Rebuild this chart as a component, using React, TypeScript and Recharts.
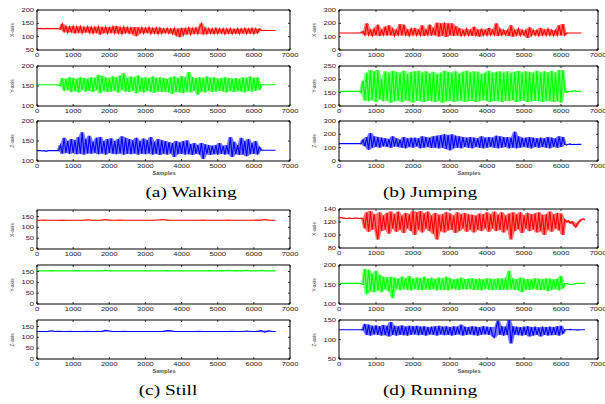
import React from "react";
import { ComposedChart, Line, Area, XAxis, YAxis, ReferenceArea } from "recharts";

// sample axis, shared by every subplot
const SAMPLE_TICKS = [0, 1000, 2000, 3000, 4000, 5000, 6000, 7000];

// values, one every 50 samples (still: every 100)
const walkX = [
  130, 130, 131, 130, 130, 130, 131, 130, 130, 130,
  130, 131, 130, 128, 148, 118, 140, 115, 138, 118,
  140, 112, 138, 116, 139, 113, 136, 117, 138, 114,
  137, 112, 136, 116, 138, 108, 135, 115, 137, 112,
  134, 115, 138, 113, 140, 112, 135, 110, 137, 114,
  135, 112, 134, 110, 136, 102, 135, 113, 134, 112,
  133, 115, 135, 111, 132, 113, 134, 110, 133, 112,
  130, 114, 132, 112, 130, 110, 132, 105, 130, 98,
  133, 106, 131, 110, 134, 108, 132, 112, 133, 110,
  135, 150, 108, 133, 110, 131, 112, 130, 110, 132,
  111, 130, 113, 131, 109, 130, 112, 131, 110, 129,
  112, 131, 110, 130, 113, 132, 111, 130, 112, 132,
  110, 131, 114, 130, 123, 123, 124, 123, 123, 123,
  123, 123, 123,
];
const walkY = [
  153, 153, 153, 153, 153, 153, 153, 153, 153, 153,
  153, 153, 152, 150, 170, 138, 168, 140, 172, 135,
  170, 137, 168, 134, 172, 140, 170, 136, 168, 138,
  172, 135, 170, 140, 178, 132, 175, 138, 172, 135,
  170, 136, 174, 138, 172, 134, 176, 140, 182, 136,
  170, 135, 174, 138, 172, 132, 176, 136, 170, 134,
  172, 138, 170, 135, 174, 133, 170, 136, 172, 135,
  170, 136, 168, 134, 172, 130, 174, 136, 170, 134,
  175, 132, 172, 136, 185, 134, 172, 138, 170, 128,
  172, 136, 170, 134, 174, 138, 170, 135, 172, 136,
  168, 138, 170, 136, 172, 134, 170, 138, 168, 135,
  170, 137, 168, 136, 172, 134, 170, 138, 174, 136,
  170, 138, 172, 140, 153, 153, 153, 153, 153, 153,
  153, 153, 153,
];
const walkZ = [
  126, 126, 126, 125, 126, 124, 126, 126, 126, 126,
  126, 126, 126, 140, 118, 158, 120, 150, 118, 155,
  120, 152, 117, 160, 118, 172, 116, 155, 119, 163,
  118, 148, 120, 158, 117, 160, 119, 150, 116, 155,
  120, 157, 118, 150, 117, 155, 119, 162, 116, 158,
  118, 155, 117, 152, 119, 158, 116, 150, 118, 156,
  117, 152, 119, 160, 116, 148, 118, 155, 115, 152,
  118, 150, 116, 147, 119, 145, 110, 150, 117, 146,
  118, 150, 116, 152, 117, 142, 115, 145, 118, 140,
  116, 145, 105, 142, 117, 140, 115, 138, 117, 140,
  116, 145, 118, 138, 116, 140, 117, 160, 110, 148,
  117, 140, 115, 158, 116, 150, 112, 155, 117, 145,
  118, 150, 116, 135, 127, 127, 127, 127, 127, 127,
  127, 127, 127,
];

const jumpX = [
  128, 128, 128, 128, 128, 128, 128, 128, 128, 128,
  128, 128, 128, 140, 110, 200, 112, 150, 105, 160,
  110, 190, 105, 150, 112, 175, 108, 185, 110, 160,
  105, 150, 112, 195, 108, 190, 110, 150, 105, 160,
  112, 165, 108, 150, 110, 185, 105, 150, 112, 190,
  108, 165, 110, 205, 100, 200, 108, 205, 98, 200,
  110, 200, 105, 180, 110, 165, 105, 150, 108, 160,
  110, 150, 105, 175, 108, 150, 100, 160, 110, 150,
  108, 165, 110, 150, 112, 200, 105, 160, 110, 150,
  112, 150, 105, 185, 100, 150, 110, 160, 108, 150,
  110, 150, 90, 170, 108, 150, 110, 150, 105, 165,
  110, 150, 108, 160, 110, 150, 105, 150, 110, 185,
  108, 195, 110, 128, 128, 128, 128, 128, 128, 128,
  128, 128,
];
const jumpY = [
  155, 155, 155, 155, 155, 155, 155, 155, 155, 155,
  155, 155, 150, 195, 120, 225, 118, 235, 122, 230,
  115, 235, 125, 200, 118, 230, 120, 225, 112, 232,
  118, 228, 120, 225, 115, 232, 122, 220, 118, 228,
  112, 230, 120, 232, 118, 225, 115, 230, 120, 222,
  118, 228, 115, 220, 120, 225, 112, 232, 118, 228,
  120, 225, 115, 230, 118, 222, 120, 228, 115, 232,
  118, 225, 120, 230, 115, 228, 118, 220, 122, 225,
  118, 232, 115, 225, 120, 228, 118, 230, 115, 225,
  120, 230, 118, 225, 122, 228, 115, 232, 118, 225,
  120, 230, 115, 228, 118, 225, 120, 232, 118, 225,
  115, 230, 120, 226, 118, 232, 115, 225, 118, 235,
  112, 235, 160, 150, 155, 155, 155, 157, 155, 155,
  155, 155,
];
const jumpZ = [
  130, 130, 130, 130, 130, 130, 130, 130, 130, 130,
  130, 130, 128, 160, 110, 180, 85, 210, 100, 185,
  105, 180, 100, 175, 110, 170, 105, 165, 100, 185,
  110, 170, 105, 160, 100, 180, 95, 170, 105, 175,
  100, 175, 110, 170, 95, 185, 100, 180, 105, 175,
  98, 185, 100, 190, 95, 195, 100, 200, 90, 195,
  80, 200, 95, 190, 100, 185, 95, 180, 105, 175,
  100, 180, 95, 175, 105, 170, 100, 185, 95, 175,
  100, 180, 105, 175, 100, 190, 95, 185, 100, 180,
  105, 180, 95, 175, 100, 220, 95, 185, 100, 175,
  105, 175, 100, 180, 95, 175, 105, 170, 100, 175,
  105, 170, 100, 180, 95, 175, 105, 170, 100, 185,
  105, 180, 125, 120, 125, 128, 122, 126, 124, 125,
  125, 125,
];

const stillX = [
  133, 133, 134, 133, 133, 133, 133, 132, 133, 133,
  133, 133, 133, 133, 135, 133, 133, 133, 133, 136,
  133, 133, 133, 134, 133, 133, 133, 133, 133, 133,
  133, 133, 133, 134, 134, 136, 133, 133, 133, 133,
  133, 133, 133, 133, 133, 133, 134, 133, 133, 133,
  133, 133, 133, 134, 133, 133, 133, 133, 133, 133,
  133, 134, 133, 136, 133, 133, 133,
];
const stillY = [
  153, 153, 153, 153, 154, 153, 153, 153, 153, 153,
  153, 154, 153, 153, 153, 153, 153, 153, 153, 155,
  153, 153, 153, 153, 153, 153, 153, 153, 153, 153,
  153, 153, 153, 153, 153, 153, 154, 153, 153, 153,
  153, 153, 153, 153, 153, 153, 153, 153, 154, 153,
  153, 154, 153, 155, 153, 154, 153, 153, 155, 153,
  153, 153, 155, 153, 153, 153, 153,
];
const stillZ = [
  127, 127, 127, 127, 130, 127, 128, 127, 127, 128,
  127, 127, 127, 127, 128, 127, 127, 127, 127, 132,
  129, 127, 127, 127, 128, 127, 127, 127, 127, 127,
  127, 127, 127, 127, 127, 127, 131, 130, 127, 127,
  127, 127, 127, 127, 127, 128, 127, 127, 127, 127,
  127, 127, 127, 127, 128, 127, 127, 127, 129, 127,
  127, 127, 131, 124, 130, 127, 127,
];

const runX = [
  126, 127, 126, 126, 125, 126, 126, 125, 126, 126,
  126, 125, 126, 125, 110, 135, 105, 137, 108, 132,
  110, 93, 135, 106, 130, 108, 134, 102, 136, 110,
  132, 105, 136, 108, 130, 103, 134, 110, 132, 106,
  137, 100, 135, 108, 137, 104, 133, 110, 136, 106,
  130, 102, 134, 93, 131, 106, 132, 104, 135, 107,
  133, 108, 130, 103, 135, 106, 132, 110, 134, 105,
  132, 108, 131, 104, 130, 108, 133, 106, 132, 110,
  135, 105, 132, 110, 136, 106, 131, 108, 135, 104,
  130, 108, 133, 93, 135, 106, 132, 109, 135, 103,
  130, 110, 134, 106, 132, 108, 133, 104, 135, 106,
  131, 100, 132, 108, 136, 105, 132, 110, 134, 107,
  133, 100, 124, 120, 122, 118, 121, 116, 112, 118,
  121, 124, 125, 123,
];
const runY = [
  153, 153, 153, 153, 153, 153, 153, 153, 153, 153,
  153, 153, 152, 150, 190, 125, 188, 132, 178, 130,
  185, 135, 175, 130, 170, 138, 168, 132, 170, 115,
  168, 138, 165, 135, 170, 138, 166, 136, 172, 135,
  165, 138, 168, 136, 166, 135, 170, 138, 165, 136,
  167, 138, 164, 135, 168, 137, 165, 136, 170, 135,
  166, 138, 163, 137, 165, 136, 168, 138, 164, 137,
  165, 138, 166, 136, 164, 137, 165, 135, 163, 138,
  166, 137, 165, 136, 164, 138, 166, 136, 165, 137,
  167, 136, 185, 138, 165, 136, 164, 135, 168, 130,
  165, 137, 164, 136, 163, 138, 166, 137, 165, 136,
  164, 137, 166, 133, 165, 136, 163, 138, 165, 135,
  172, 140, 153, 152, 151, 150, 150, 151, 152, 153,
  153, 153, 153, 153,
];
const runZ = [
  125, 125, 125, 125, 125, 125, 125, 125, 125, 125,
  125, 125, 125, 124, 140, 112, 138, 110, 135, 113,
  136, 112, 134, 110, 137, 111, 135, 108, 145, 112,
  135, 110, 134, 112, 136, 111, 133, 110, 135, 112,
  134, 113, 135, 111, 133, 112, 134, 110, 132, 113,
  133, 112, 134, 110, 135, 113, 133, 111, 134, 112,
  132, 110, 134, 112, 133, 113, 138, 110, 133, 112,
  132, 113, 134, 111, 133, 110, 132, 112, 134, 113,
  133, 112, 132, 110, 105, 132, 148, 112, 134, 110,
  133, 112, 150, 90, 134, 112, 133, 111, 132, 110,
  133, 112, 134, 108, 132, 110, 133, 112, 131, 108,
  133, 112, 132, 110, 133, 111, 132, 112, 134, 110,
  135, 115, 125, 125, 125, 126, 125, 125, 125, 124,
  125, 125, 125, 125,
];

const RED = "#ff0000";
const GREEN = "#00ff00";
const BLUE = "#0000ff";
const AXIS_W = 40;

type SubProps = {
  values: number[];
  step: number;
  color: string;
  domain: [number, number];
  yTicks: number[];
  left: number;
  top: number;
  width: number;
  height: number;
  label: string;
};

function Subplot({ values, step, color, domain, yTicks, left, top, width, height, label }: SubProps) {
  // each row also carries the local min/max so the busy parts read as a filled band
  const data = values.map((v, i) => {
    const near = values.slice(Math.max(0, i - 1), i + 2);
    return { s: i * step, v, band: [Math.min(...near), Math.max(...near)] };
  });

  // matlab style: ticks pointing inwards, on all four sides
  const xTick = (p: any) => {
    const { x, y, payload } = p;
    return (
      <g>
        <line x1={x} x2={x} y1={y} y2={y - 2} stroke="#000" strokeWidth={0.8} />
        <line x1={x} x2={x} y1={y - height} y2={y - height + 2} stroke="#000" strokeWidth={0.8} />
        <text transform={`translate(${x},${y + 6.5}) scale(1.25,1)`} textAnchor="middle" fontSize={6} fill="#222">
          {payload.value}
        </text>
      </g>
    );
  };
  const yTick = (p: any) => {
    const { x, y, payload } = p;
    return (
      <g>
        <line x1={x} x2={x + 2} y1={y} y2={y} stroke="#000" strokeWidth={0.8} />
        <line x1={x + width - 2} x2={x + width} y1={y} y2={y} stroke="#000" strokeWidth={0.8} />
        <text transform={`translate(${x - 3},${y + 2}) scale(1.25,1)`} textAnchor="end" fontSize={6} fill="#222">
          {payload.value}
        </text>
      </g>
    );
  };

  return (
    <>
      <div style={{ position: "absolute", left: left - AXIS_W, top: top - 2 }}>
        <ComposedChart
          width={AXIS_W + width + 14}
          height={height + 14}
          data={data}
          margin={{ top: 2, right: 14, bottom: 0, left: 0 }}
          style={{ fontFamily: "'Liberation Sans', Arial, sans-serif" }}
        >
          <XAxis
            dataKey="s"
            type="number"
            domain={[0, 7000]}
            ticks={SAMPLE_TICKS}
            interval={0}
            height={12}
            axisLine={false}
            tickLine={false}
            tickSize={0}
            tickMargin={0}
            tick={xTick}
            allowDataOverflow
          />
          <YAxis
            type="number"
            domain={domain}
            ticks={yTicks}
            interval={0}
            width={AXIS_W}
            axisLine={false}
            tickLine={false}
            tickSize={0}
            tickMargin={0}
            tick={yTick}
            allowDataOverflow
          />
          <ReferenceArea x1={0} x2={7000} y1={domain[0]} y2={domain[1]} fill="none" stroke="#000" strokeWidth={1} />
          <Area dataKey="band" stroke="none" fill={color} fillOpacity={0.55} isAnimationActive={false} />
          <Line dataKey="v" stroke={color} strokeWidth={1.1} dot={false} isAnimationActive={false} />
        </ComposedChart>
      </div>
      <div
        style={{
          position: "absolute",
          left: left - 25,
          top: top + height / 2,
          transform: "translate(-50%, -50%) rotate(-90deg)",
          fontFamily: "'Liberation Sans', Arial, sans-serif",
          fontSize: 5,
          color: "#444",
          whiteSpace: "nowrap",
        }}
      >
        {label}
      </div>
    </>
  );
}

type PanelProps = {
  series: number[][];
  step: number;
  domains: [number, number][];
  ticks: number[][];
  left: number;
  width: number;
  tops: number[];
  height: number;
  caption: string;
  captionX: number;
  captionY: number;
};

const COLORS = [RED, GREEN, BLUE];
const AXIS_LABELS = ["X-axis", "Y-axis", "Z-axis"];

function Panel(p: PanelProps) {
  const bottom = p.tops[2] + p.height;
  return (
    <>
      {p.series.map((vals, i) => (
        <Subplot
          key={i}
          values={vals}
          step={p.step}
          color={COLORS[i]}
          domain={p.domains[i]}
          yTicks={p.ticks[i]}
          left={p.left}
          top={p.tops[i]}
          width={p.width}
          height={p.height}
          label={AXIS_LABELS[i]}
        />
      ))}
      <div
        style={{
          position: "absolute",
          left: p.left + p.width / 2,
          top: bottom + 12,
          transform: "translate(-50%, -50%) scale(1.25, 1)",
          fontFamily: "'Liberation Sans', Arial, sans-serif",
          fontSize: 4.5,
          fontWeight: "bold",
          color: "#555",
        }}
      >
        Samples
      </div>
      <div
        style={{
          position: "absolute",
          left: p.captionX,
          top: p.captionY,
          transform: "translate(-50%, -50%) scale(1.25, 1)",
          fontFamily: "'Liberation Serif', 'Times New Roman', serif",
          fontSize: 15.5,
          color: "#000",
          whiteSpace: "nowrap",
        }}
      >
        {p.caption}
      </div>
    </>
  );
}

export default function App() {
  return (
    <div style={{ position: "absolute", left: 0, top: 0, width: 605, height: 404, background: "#fff", overflow: "hidden" }}>
      <Panel
        series={[walkX, walkY, walkZ]}
        step={50}
        domains={[[50, 200], [100, 200], [100, 200]]}
        ticks={[[50, 100, 150, 200], [100, 150, 200], [100, 150, 200]]}
        left={37}
        width={253}
        tops={[10, 66, 121]}
        height={40}
        caption="(a) Walking"
        captionX={191}
        captionY={192}
      />
      <Panel
        series={[jumpX, jumpY, jumpZ]}
        step={50}
        domains={[[0, 300], [100, 250], [0, 300]]}
        ticks={[[0, 100, 200, 300], [100, 150, 200, 250], [0, 100, 200, 300]]}
        left={339}
        width={259}
        tops={[10, 66, 121]}
        height={40}
        caption="(b) Jumping"
        captionX={430}
        captionY={192}
      />
      <Panel
        series={[stillX, stillY, stillZ]}
        step={100}
        domains={[[0, 180], [0, 180], [0, 180]]}
        ticks={[[0, 50, 100, 150], [0, 50, 100, 150], [0, 50, 100, 150]]}
        left={37}
        width={253}
        tops={[210, 265, 320]}
        height={39}
        caption="(c) Still"
        captionX={168}
        captionY={390}
      />
      <Panel
        series={[runX, runY, runZ]}
        step={50}
        domains={[[80, 140], [100, 200], [50, 150]]}
        ticks={[[80, 100, 120, 140], [100, 150, 200], [50, 100, 150]]}
        left={339}
        width={259}
        tops={[209, 265, 320]}
        height={39}
        caption="(d) Running"
        captionX={430}
        captionY={390}
      />
    </div>
  );
}
